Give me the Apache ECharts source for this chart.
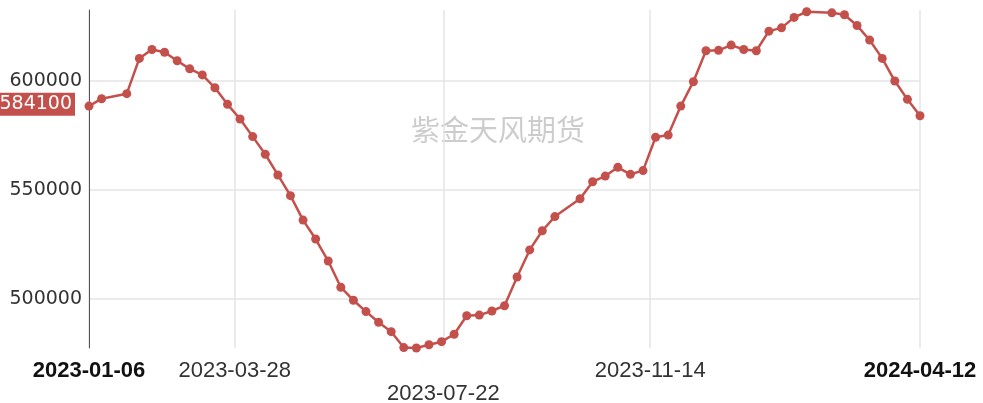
<!DOCTYPE html>
<html>
<head>
<meta charset="utf-8">
<script src="https://cdn.jsdelivr.net/npm/echarts@6/dist/echarts.min.js"></script>
<style>
html,body{margin:0;padding:0;background:#fff;}
#main{width:983px;height:403px;}
</style>
</head>
<body>
<div id="main"></div>
<script>
const dates = [
  '2023-01-06','2023-01-13','2023-01-27','2023-02-03','2023-02-10','2023-02-17','2023-02-24',
  '2023-03-03','2023-03-10','2023-03-17','2023-03-24','2023-03-31','2023-04-07','2023-04-14',
  '2023-04-21','2023-04-28','2023-05-05','2023-05-12','2023-05-19','2023-05-26','2023-06-02',
  '2023-06-09','2023-06-16','2023-06-23','2023-06-30','2023-07-07','2023-07-14','2023-07-21',
  '2023-07-28','2023-08-04','2023-08-11','2023-08-18','2023-08-25','2023-09-01','2023-09-08',
  '2023-09-15','2023-09-22','2023-10-06','2023-10-13','2023-10-20','2023-10-27','2023-11-03',
  '2023-11-10','2023-11-17','2023-11-24','2023-12-01','2023-12-08','2023-12-15','2023-12-22',
  '2023-12-29','2024-01-05','2024-01-12','2024-01-19','2024-01-26','2024-02-02','2024-02-09',
  '2024-02-23','2024-03-01','2024-03-08','2024-03-15','2024-03-22','2024-03-29','2024-04-05',
  '2024-04-12'
];
const values = [
  588500,591900,594200,610400,614500,613200,609300,
  605600,602800,596900,589300,582600,574500,566400,
  556900,547400,536200,527500,517400,505400,499400,
  494200,489300,485000,477700,477500,479000,480400,
  483800,492300,492600,494500,496900,510100,522500,
  531300,537800,546000,553800,556400,560400,557200,
  558900,574200,575200,588500,599700,613900,614100,
  616500,614500,613900,622900,624400,629200,631800,
  631300,630400,625500,618800,610400,600000,591600,
  584100
];
const xTickLabels = ['2023-01-06','2023-03-28','2023-07-22','2023-11-14','2024-04-12'];
const yTickValues = [500000, 550000, 600000];
const lastValueLabel = [584100];
const watermarkText = '紫金天风期货';

function ts(s){ const p = s.split('-').map(Number); return Date.UTC(p[0], p[1]-1, p[2]); }
const seriesData = dates.map((d,i)=>[ts(d), values[i]]);
const xTicks = xTickLabels.map(ts);
const yMin = 477500, yMax = 632600;
const red = '#c4504c';
const xFont = '"Liberation Sans", Arial, sans-serif';

const chart = echarts.init(document.getElementById('main'), null, {renderer:'canvas'});
chart.setOption({
  animation:false,
  grid:{left:89, right:63, top:10, bottom:55, containLabel:false, outerBoundsMode:'none'},
  graphic:[{
    type:'text', x:498, y:130, z:0, silent:true,
    style:{text:watermarkText, fill:'rgba(0,0,0,0.2)', font:'29px "Noto Sans CJK SC"',
      align:'center', verticalAlign:'middle'}
  }],
  xAxis:{
    type:'value', min:xTicks[0], max:xTicks[xTicks.length-1],
    axisLine:{show:false}, axisTick:{show:false, customValues:xTicks},
    splitLine:{show:true, lineStyle:{color:'#e4e4e4', width:1.5}},
    axisLabel:{
      customValues:xTicks, margin:12,
      fontFamily:xFont, fontSize:22, color:'#333',
      formatter:function(v, idx){
        let i = xTicks.indexOf(v); if (i<0) i = idx;
        const s = xTickLabels[i];
        if (i===0 || i===xTickLabels.length-1) return '{b|'+s+'}';
        if (i===2) return '{low|'+s+'}';
        return '{n|'+s+'}';
      },
      rich:{
        b:{fontFamily:xFont, fontSize:22, fontWeight:'bold', color:'#111'},
        n:{fontFamily:xFont, fontSize:22, color:'#333'},
        low:{fontFamily:xFont, fontSize:22, color:'#333', padding:[23,0,0,0]}
      }
    }
  },
  yAxis:[{
    type:'value', min:yMin, max:yMax,
    axisLine:{show:true, lineStyle:{color:'#555', width:1}},
    axisTick:{show:false, customValues:yTickValues},
    splitLine:{show:true, lineStyle:{color:'#e4e4e4', width:1.5}},
    axisLabel:{customValues:yTickValues, fontFamily:'"DejaVu Sans"', fontSize:19, color:'#333', margin:7,
      formatter:function(v){ return String(v); }}
  },{
    type:'value', min:yMin, max:yMax, position:'left',
    axisLine:{show:false}, axisTick:{show:false}, splitLine:{show:false},
    axisLabel:{customValues:lastValueLabel, fontFamily:'"DejaVu Sans"', fontSize:19, color:'#fff',
      backgroundColor:red, padding:[2,3,2,3], verticalAlign:'bottom', margin:14,
      formatter:function(v){ return String(v); }}
  }],
  series:[{
    type:'line', data:seriesData, symbol:'circle', symbolSize:9,
    itemStyle:{color:red}, lineStyle:{color:red, width:2.5}, z:3
  }]
});
</script>
</body>
</html>
